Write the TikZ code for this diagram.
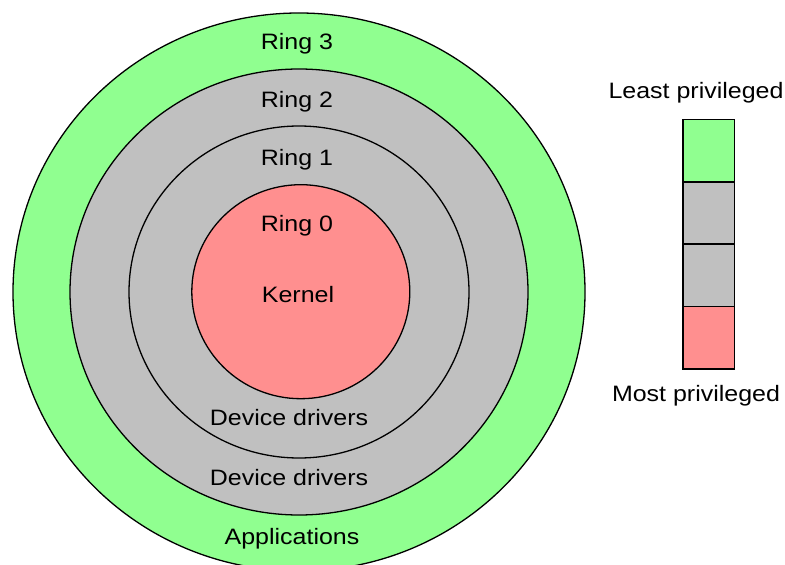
\documentclass[tikz,border=0pt]{standalone}
\usepackage{fontspec}
\setmainfont{Liberation Sans}[FakeStretch=1.12]
\definecolor{ringgreen}{RGB}{144,255,144}
\definecolor{ringgray}{RGB}{192,192,192}
\definecolor{ringred}{RGB}{255,143,143}
\begin{document}
\begin{tikzpicture}[x=1bp,y=-1bp,
  ringline/.style={draw=black,line width=1.3bp},
  lbl/.style={anchor=base,inner sep=0pt,font=\fontsize{22.3bp}{26bp}\selectfont},
  cell/.style={draw=black,line width=1.3bp}]
\useasboundingbox (0,0) rectangle (785,565);
\fill[white] (0,0) rectangle (785,565);
\begin{scope}
\clip (0,0) rectangle (785,565);
\path[ringline,fill=ringgreen] (299,292) ellipse [x radius=286bp, y radius=279bp];
\path[ringline,fill=ringgray] (299,292) ellipse [x radius=229bp, y radius=223bp];
\path[ringline,fill=ringgray] (299,292) ellipse [x radius=170bp, y radius=166bp];
\path[ringline,fill=ringred] (300.8,291.7) ellipse [x radius=109bp, y radius=107bp];
\end{scope}
\node[lbl] (r3) at (297,49.3) {Ring 3};
\node[lbl] (r2) at (297,107.3) {Ring 2};
\node[lbl] (r1) at (297,166) {Ring 1};
\node[lbl] (r0) at (297,231.7) {Ring 0};
\node[lbl] (kern) at (298,302.3) {Kernel};
\node[lbl] (dd1) at (289,425) {Device drivers};
\node[lbl] (dd2) at (289,485) {Device drivers};
\node[lbl] (apps) at (292,544) {Applications};
% legend
\path[cell,fill=ringgreen] (683,119.3) rectangle (734.3,182);
\path[cell,fill=ringgray] (683,182) rectangle (734.3,244);
\path[cell,fill=ringgray] (683,244) rectangle (734.3,306.3);
\path[cell,fill=ringred] (683,306.3) rectangle (734.3,369);
\node[lbl] (least) at (696,98.3) {Least privileged};
\node[lbl] (most) at (696,401.7) {Most privileged};
\end{tikzpicture}
\end{document}
